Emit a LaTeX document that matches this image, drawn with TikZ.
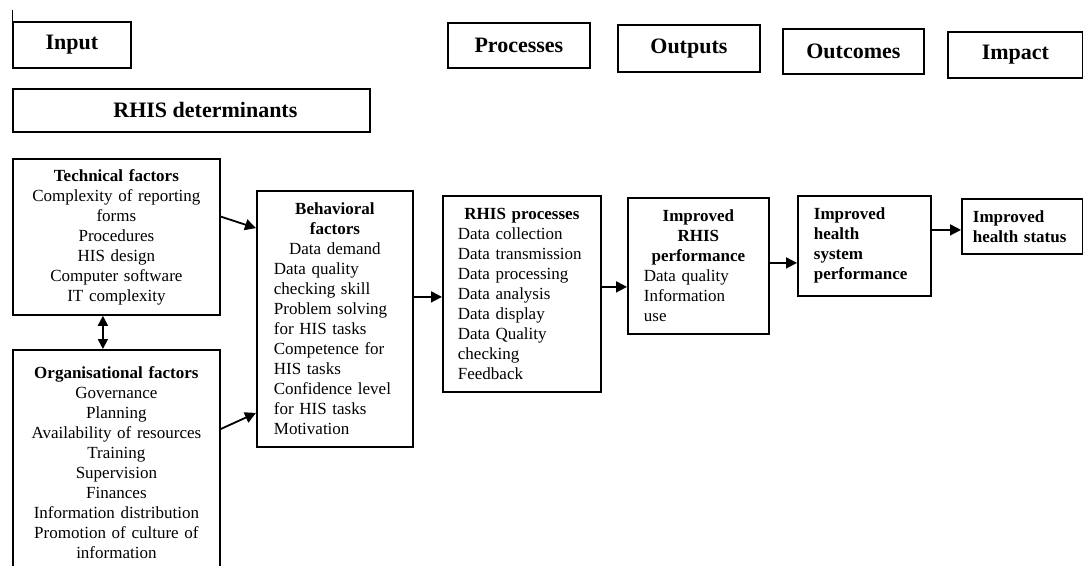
\documentclass[tikz,border=0pt]{standalone}
\usepackage{fontspec}
\setmainfont{Liberation Serif}
\usetikzlibrary{arrows.meta}

\newcommand\ctr[1]{\hspace*{\fill}#1\hspace*{\fill}\null}

\tikzset{
  head/.style={draw, line width=1.8pt, anchor=north west, inner sep=0pt,
    font=\fontsize{22}{26}\selectfont\bfseries},
  box/.style={draw, line width=1.8pt, anchor=north west, inner ysep=0pt,
    font=\fontsize{17}{20}\selectfont},
  boldbox/.style={box, font=\fontsize{17}{20}\selectfont\bfseries},
  arr/.style={line width=1.8pt, -{Triangle[length=11pt,width=11pt]}},
  darr/.style={line width=1.8pt, {Triangle[length=10pt,width=10pt]}-{Triangle[length=10pt,width=10pt]}}
}

\begin{document}
\begin{tikzpicture}[x=1pt,y=-1pt]
\useasboundingbox (0,0) rectangle (1083,565);
\clip (0,0) rectangle (1083,565);
% header row
\node[head, minimum width=118pt, minimum height=46pt] (hinput) at (12,21) {Input};
\draw[line width=0.6pt] (hinput.north west) -- ++(0,-11);
\node[head, minimum width=142pt, minimum height=45pt] (hproc) at (447,22) {Processes};
\node[head, minimum width=142pt, minimum height=47pt] (hout) at (617,24) {Outputs};
\node[head, minimum width=141pt, minimum height=45pt] (houtc) at (782,28) {Outcomes};
\node[head, minimum width=135pt, minimum height=46pt] (himp) at (947,31) {Impact};
\node[head, minimum width=357pt, minimum height=43pt] (hdet) at (12,88) {\hspace*{28pt}RHIS determinants};
% determinants
\node[box, text width=197pt, inner xsep=5pt, minimum height=156pt, align=center] (tech) at (12,158)
  {\textbf{Technical factors}\\Complexity of reporting\\forms\\Procedures\\HIS design\\Computer software\\IT complexity};
\node[box, text width=197pt, inner xsep=5pt, minimum height=226pt, align=center] (org) at (12,349)
  {\textbf{Organisational factors}\\Governance\\Planning\\Availability of resources\\Training\\Supervision\\Finances\\Information distribution\\Promotion of culture of\\information};
\node[box, text width=122pt, inner xsep=17pt, minimum height=256pt, align=left] (beh) at (256,190)
  {\ctr{\textbf{Behavioral}}\\\ctr{\textbf{factors}}\\\ctr{Data demand}\\Data quality\\checking skill\\Problem solving\\for HIS tasks\\Competence for\\HIS tasks\\Confidence level\\for HIS tasks\\Motivation};
% chain
\node[box, text width=128pt, inner xsep=15pt, minimum height=196pt, align=left] (proc) at (442,195)
  {\ctr{\textbf{RHIS processes}}\\Data collection\\Data transmission\\Data processing\\Data analysis\\Data display\\Data Quality\\checking\\Feedback};
\node[box, text width=109pt, inner xsep=16pt, minimum height=136pt, align=left] (rperf) at (627,197)
  {\ctr{\textbf{Improved}}\\\ctr{\textbf{RHIS}}\\\ctr{\textbf{performance}}\\Data quality\\Information\\use};
\node[boldbox, text width=101pt, inner xsep=16pt, minimum height=100pt, align=left] (hsys) at (797,195)
  {Improved\\health\\system\\performance};
\node[boldbox, text width=99pt, inner xsep=11pt, minimum height=55pt, align=left] (hstat) at (961,198)
  {Improved\\health~status};
% arrows
\draw[arr] (tech.11) -- (beh.131);
\draw[arr] (org.18) -- (beh.230);
\draw[darr] ([xshift=-13.5pt]tech.south) -- ([xshift=-13.5pt]org.north);
\draw[arr] ([yshift=22pt]beh.east) -- ([yshift=22pt]beh.east -| proc.west);
\draw[arr] ([yshift=7pt]proc.east) -- ([yshift=7pt]proc.east -| rperf.west);
\draw[arr] ([yshift=3pt]rperf.east) -- ([yshift=3pt]rperf.east -| hsys.west);
\draw[arr] ([yshift=16pt]hsys.east) -- ([yshift=16pt]hsys.east -| hstat.west);
\end{tikzpicture}
\end{document}
